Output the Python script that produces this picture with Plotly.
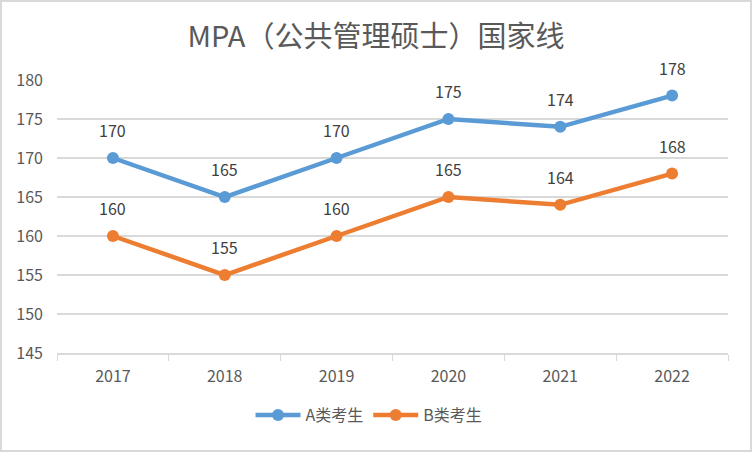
import plotly.graph_objects as go

years = ["2017", "2018", "2019", "2020", "2021", "2022"]
a_scores = [170, 165, 170, 175, 174, 178]
b_scores = [160, 155, 160, 165, 164, 168]
y_ticks = [145, 150, 155, 160, 165, 170, 175, 180]

FONT = "Noto Sans CJK SC"
BLUE = "#5B9BD5"
ORANGE = "#ED7D31"
TXT = "#595959"

fig = go.Figure()
fig.add_trace(go.Scatter(x=years, y=a_scores, name="A类考生", mode="lines+markers",
                         line=dict(color=BLUE, width=4.5), marker=dict(size=12, color=BLUE)))
fig.add_trace(go.Scatter(x=years, y=b_scores, name="B类考生", mode="lines+markers",
                         line=dict(color=ORANGE, width=4.5), marker=dict(size=12, color=ORANGE)))

ann = []
for series in (a_scores, b_scores):
    for i, y in enumerate(series):
        ann.append(dict(x=i, y=y, xref="x", yref="y", text=str(y), showarrow=False, yshift=28,
                        font=dict(family=FONT, size=16, color="#404040")))

W, H = 752, 452
L, R, T, B = 57, 24, 80, 99
pw, ph = W - L - R, H - T - B
fig.update_layout(
    width=W, height=H,
    margin=dict(l=L, r=R, t=T, b=B),
    paper_bgcolor="white", plot_bgcolor="white",
    font=dict(family=FONT, size=15, color=TXT),
    title=dict(text="MPA（公共管理硕士）国家线", x=0.5, xanchor="center", y=1 - 37 / H, yanchor="middle",
               font=dict(family=FONT, size=29, color=TXT)),
    annotations=ann,
    showlegend=True,
    legend=dict(orientation="h", x=0.465, xanchor="center", y=-(415 - 353) / ph, yanchor="middle",
                font=dict(family=FONT, size=16, color=TXT), itemwidth=45),
    shapes=[dict(type="rect", xref="paper", yref="paper",
                 x0=-(L - 1) / pw, x1=1 + (R - 1) / pw, y0=-(B - 1) / ph, y1=1 + (T - 1) / ph,
                 line=dict(color="#d9d9d9", width=2), layer="below")],
)
fig.update_xaxes(type="category", range=[-0.5, 5.5], showgrid=False, showline=True, linecolor="#d9d9d9",
                 linewidth=1.5, ticks="outside", tickson="boundaries", ticklen=6, tickcolor="#d9d9d9",
                 ticklabelstandoff=8, automargin=False, tickfont=dict(family=FONT, size=16, color=TXT))
fig.update_yaxes(range=[145, 180], tickvals=y_ticks, showgrid=True, gridcolor="#d9d9d9", gridwidth=1.5,
                 zeroline=False, showline=False, ticks="", ticklabelstandoff=13, automargin=False,
                 tickfont=dict(family=FONT, size=16, color=TXT))

fig.write_html("out.html", config={"displayModeBar": False},
               post_script="document.body.style.margin='0';document.body.style.padding='0';")
